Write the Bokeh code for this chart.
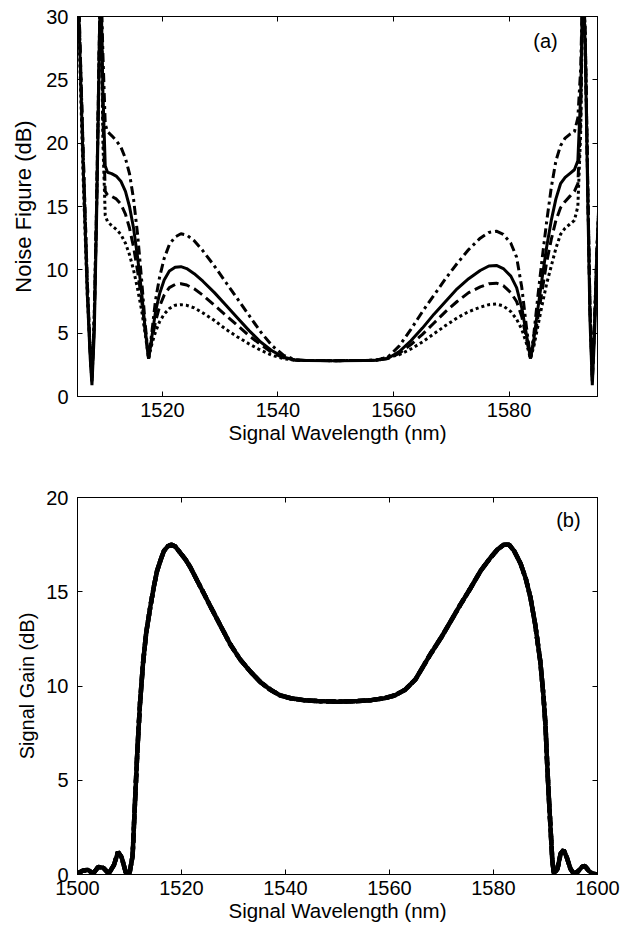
from bokeh.plotting import figure
from bokeh.layouts import column
from bokeh.models import LinearAxis, Range1d, FixedTicker, Label
from bokeh.embed import file_html
from bokeh.resources import INLINE

FONT = "Liberation Sans"

# ---------------- data: (a) noise figure ----------------
wl = [1505.0, 1505.6, 1506.3, 1507.0, 1507.5, 1507.8, 1508.2, 1508.6, 1509.0, 1509.3,
      1509.7, 1510.1, 1510.5, 1511.2, 1512.0, 1512.8, 1513.6, 1514.3, 1515.0, 1515.7,
      1516.4, 1517.0, 1517.6, 1518.2, 1518.8, 1519.5, 1520.3, 1521.2, 1522.2, 1523.2,
      1524.2, 1525.5, 1527.0, 1529.0, 1531.0, 1533.0, 1535.0, 1537.0, 1539.0, 1541.0,
      1543.0, 1545.0, 1550.0, 1555.0, 1557.0, 1559.0, 1561.0, 1563.0, 1565.0, 1567.0,
      1569.0, 1571.0, 1573.0, 1575.0, 1576.5, 1577.8, 1579.0, 1580.3, 1581.3, 1582.2,
      1583.0, 1583.7, 1584.3, 1585.0, 1585.7, 1586.5, 1587.3, 1588.1, 1588.9, 1589.7,
      1590.5, 1591.3, 1591.9, 1592.4, 1592.8, 1593.2, 1593.6, 1594.0, 1594.4, 1594.8,
      1595.2, 1595.6]

nf_dashdot = [42, 30, 19, 9, 3.5, 1.2, 6, 15, 26, 34,
              27, 21.5, 20.9, 20.6, 20.2, 19.7, 18.8, 17.6, 15.6, 12.8,
              9.2, 5.8, 3.0, 5.2, 7.6, 9.4, 10.9, 12.0, 12.6, 12.85,
              12.75, 12.3, 11.5, 10.3, 9.0, 7.7, 6.4, 5.1, 4.0, 3.25,
              2.9, 2.84, 2.83, 2.84, 2.86, 3.1, 4.0, 5.3, 6.7, 8.0,
              9.3, 10.5, 11.6, 12.5, 12.95, 13.05, 12.8, 12.1, 11.0, 8.6,
              5.5, 3.0, 5.0, 8.0, 10.8, 13.8, 16.5, 18.6, 19.8, 20.4,
              20.7, 20.9, 22.0, 26, 34, 28, 17, 7, 1.2, 6,
              11.5, 16]

nf_solid = [40, 29, 18, 8, 3, 0.9, 5, 14, 25, 34,
            24, 18.2, 17.7, 17.6, 17.4, 17.0, 16.2, 15.0, 13.3, 11.0,
            8.2, 5.4, 3.0, 4.8, 6.7, 8.1, 9.2, 9.9, 10.2, 10.25,
            10.1, 9.7, 9.1, 8.2, 7.2, 6.2, 5.2, 4.3, 3.6, 3.1,
            2.88, 2.84, 2.83, 2.84, 2.86, 3.0, 3.55, 4.4, 5.4, 6.5,
            7.5, 8.5, 9.3, 9.95, 10.3, 10.35, 10.1, 9.5, 8.6, 7.0,
            4.9, 3.0, 4.6, 7.0, 9.3, 11.8, 13.9, 15.6, 16.8, 17.3,
            17.6, 17.9, 18.6, 24, 34, 27, 16, 6, 0.9, 5,
            11, 15]

nf_dashed = [41, 30, 19, 9, 3.5, 1.2, 6, 15, 26, 34,
             22, 16.2, 15.9, 15.8, 15.6, 15.2, 14.4, 13.3, 11.8, 9.9,
             7.6, 5.3, 3.0, 4.5, 5.9, 7.1, 8.0, 8.6, 8.85, 8.9,
             8.8, 8.5, 8.0, 7.2, 6.4, 5.6, 4.8, 4.1, 3.45, 3.05,
             2.87, 2.84, 2.83, 2.84, 2.86, 3.0, 3.4, 4.1, 4.9, 5.8,
             6.7, 7.5, 8.2, 8.65, 8.9, 8.95, 8.75, 8.2, 7.5, 6.3,
             4.6, 3.0, 4.3, 6.3, 8.3, 10.6, 12.4, 13.9, 14.9, 15.4,
             15.8, 16.2, 16.8, 22, 34, 28, 17, 7, 1.2, 6,
             11.5, 16]

nf_dotted = [39, 28, 17, 8, 3.5, 1.5, 6.5, 15, 26, 34,
             20, 14.3, 13.8, 13.5, 13.2, 12.8, 12.1, 11.2, 10.0, 8.5,
             6.8, 5.0, 3.0, 4.2, 5.1, 5.9, 6.5, 6.95, 7.2, 7.25,
             7.2, 7.0, 6.6, 6.0, 5.3, 4.7, 4.15, 3.65, 3.25, 2.98,
             2.86, 2.84, 2.83, 2.84, 2.88, 3.1, 3.3, 3.75, 4.3, 4.95,
             5.6, 6.2, 6.7, 7.05, 7.25, 7.3, 7.15, 6.7, 6.1, 5.3,
             4.2, 3.0, 4.0, 5.6, 7.2, 8.9, 10.3, 11.7, 12.8, 13.3,
             13.6, 13.9, 15.0, 21, 34, 28, 17, 7, 1.5, 6,
             11.5, 16]

# ---------------- data: (b) signal gain ----------------
wl_gain = [1500.0, 1501.0, 1502.0, 1503.0, 1504.0, 1505.0, 1506.0, 1507.0, 1507.8, 1508.5,
           1509.3, 1510.0, 1510.6, 1511.0, 1511.5, 1512.0, 1512.6, 1513.2, 1514.0, 1514.7,
           1515.3, 1516.0, 1516.6, 1517.3, 1518.0, 1518.8, 1519.8, 1520.8, 1521.7, 1523.0,
           1524.5, 1525.6, 1527.5, 1529.4, 1531.3, 1533.3, 1535.2, 1537.1, 1539.0, 1541.0,
           1543.5, 1546.1, 1550.0, 1553.9, 1556.5, 1559.0, 1561.0, 1563.0, 1565.0, 1567.9,
           1570.0, 1571.7, 1573.6, 1575.6, 1577.5, 1579.4, 1580.8, 1582.0, 1583.0, 1584.0,
           1585.2, 1586.2, 1587.1, 1588.0, 1589.0, 1589.6, 1590.0, 1590.3, 1590.6, 1591.0,
           1591.3, 1591.6, 1592.3, 1592.9, 1593.5, 1594.1, 1594.8, 1595.4, 1596.2, 1597.0,
           1597.6, 1598.3, 1599.0, 1600.0]

gain = [0.05, 0.2, 0.25, 0.05, 0.4, 0.35, 0.05, 0.5, 1.2, 0.9,
        0.1, 0.05, 1.0, 3.5, 6.5, 9.0, 11.2, 12.8, 14.2, 15.3,
        16.1, 16.7, 17.15, 17.4, 17.5, 17.4, 17.05, 16.7, 16.3, 15.6,
        14.8, 14.2, 13.2, 12.2, 11.4, 10.75, 10.2, 9.8, 9.5, 9.35,
        9.25, 9.2, 9.17, 9.2, 9.25, 9.35, 9.5, 9.8, 10.35, 11.7,
        12.6, 13.4, 14.3, 15.2, 16.1, 16.8, 17.25, 17.5, 17.5, 17.15,
        16.5, 15.7, 14.7, 13.3, 11.3, 9.5, 7.9, 6.0, 4.3, 2.3,
        0.8, 0.05, 0.3, 1.1, 1.3, 0.9, 0.3, 0.05, 0.15, 0.4,
        0.45, 0.2, 0.05, 0.0]

nf_xticks = [1520, 1540, 1560, 1580]
nf_yticks = [0, 5, 10, 15, 20, 25, 30]
g_xticks = [1500, 1520, 1540, 1560, 1580, 1600]
g_yticks = [0, 5, 10, 15, 20]

styles = [("solid", 3), ("10 5", 3), ("3 3", 3), ("9 4 3 4", 3)]


def style_axis(ax, ticks, show_labels=True):
    ax.ticker = FixedTicker(ticks=ticks)
    ax.major_tick_in = 5
    ax.major_tick_out = 0
    ax.minor_tick_line_color = None
    ax.axis_line_color = "black"
    ax.major_tick_line_color = "black"
    ax.major_label_text_font = FONT
    ax.axis_label_text_font = FONT
    ax.axis_label_text_font_style = "normal"
    ax.axis_label_text_color = "black"
    if show_labels:
        ax.major_label_text_color = "black"
        ax.major_label_text_font_size = "20px"
        ax.axis_label_text_font_size = "20px"
    else:
        ax.major_label_text_color = None
        ax.major_label_standoff = 0


def make_fig(xr, yr, h, top, bottom, xticks, yticks, xlabel, ylabel, ylab_size, ylab_standoff):
    p = figure(width=627, height=h, x_range=Range1d(*xr), y_range=Range1d(*yr),
               output_backend="svg", toolbar_location=None,
               min_border_left=77, min_border_right=30,
               min_border_top=top, min_border_bottom=bottom)
    p.grid.visible = False
    p.outline_line_color = "black"
    p.outline_line_width = 1
    p.background_fill_color = "white"
    p.border_fill_color = "white"
    style_axis(p.xaxis[0], xticks)
    style_axis(p.yaxis[0], yticks)
    p.xaxis[0].axis_label = xlabel
    p.yaxis[0].axis_label = ylabel
    p.xaxis[0].axis_label_text_font_size = "20.5px"
    p.yaxis[0].axis_label_text_font_size = ylab_size
    p.xaxis[0].major_label_standoff = 6
    p.xaxis[0].axis_label_standoff = 1
    p.yaxis[0].major_label_standoff = 9
    p.yaxis[0].axis_label_standoff = ylab_standoff
    ax_top = LinearAxis()
    style_axis(ax_top, xticks, show_labels=False)
    p.add_layout(ax_top, "above")
    ax_right = LinearAxis()
    style_axis(ax_right, yticks, show_labels=False)
    p.add_layout(ax_right, "right")
    return p


p1 = make_fig((1505.3, 1595.3), (0, 30), 451, 16, 55, nf_xticks, nf_yticks,
              "Signal Wavelength (nm)", "Noise Figure (dB)", "22px", 7)
for ys, (dash, lw) in zip([nf_solid, nf_dashed, nf_dotted, nf_dashdot], styles):
    p1.line(wl, ys, line_color="black", line_width=lw, line_dash=dash)
p1.add_layout(Label(x=1586.3, y=28.1, text="(a)", text_align="center",
                    text_baseline="middle", text_font=FONT, text_font_size="20px",
                    text_color="black"))

p2 = make_fig((1500, 1600), (0, 20), 473, 46, 48, g_xticks, g_yticks,
              "Signal Wavelength (nm)", "Signal Gain (dB)", "20px", 5)
for dash, lw in styles:
    p2.line(wl_gain, gain, line_color="black", line_width=4.5, line_dash=dash)
p2.add_layout(Label(x=1594.4, y=18.8, text="(b)", text_align="center",
                    text_baseline="middle", text_font=FONT, text_font_size="20px",
                    text_color="black"))

layout = column(p1, p2, spacing=0)
open("out.html", "w").write(file_html(layout, INLINE))
